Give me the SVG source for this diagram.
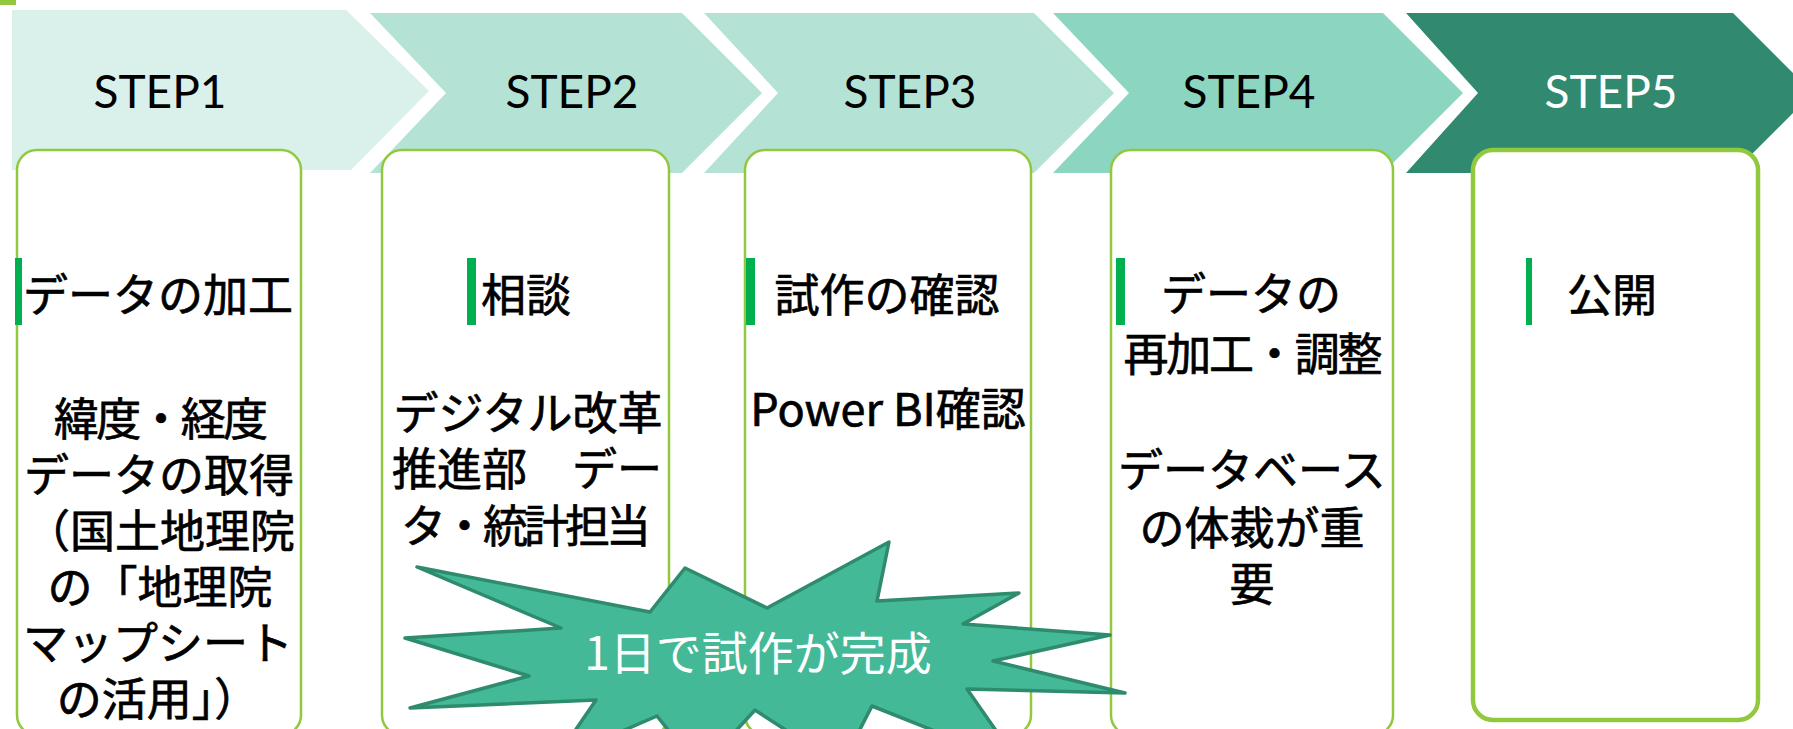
<svg xmlns="http://www.w3.org/2000/svg" width="1793" height="729" viewBox="0 0 1793 729">
<style>
.step{font-family:Lato,"Liberation Sans",sans-serif;font-size:46px;text-anchor:middle;fill:#000}
.box{fill:#fff;stroke:#92C83E;stroke-width:2.5}
.bar{fill:#00B050}
.t{font-family:"Noto Sans CJK JP","Noto Sans",sans-serif;font-size:45px;font-weight:400;fill:#000;stroke:#000;stroke-width:0.7;text-anchor:middle}
</style>
<rect x="0" y="0" width="16" height="5" fill="#92C83E"/>
<g id="chevrons">
<polygon id="chev1" points="12,10 346,10 429,91 351,170 12,170" fill="#DAF0EA"/>
<polygon id="chev2" points="370,13 682,13 762,93 682,173 370,173 446,93" fill="#B4E3D6"/>
<polygon id="chev3" points="704,13 1034,13 1114,93 1034,173 704,173 778,93" fill="#B4E3D6"/>
<polygon id="chev4" points="1053,13 1383,13 1463,93 1383,173 1053,173 1129,93" fill="#8CD5C1"/>
<polygon id="chev5" points="1406,13 1733,13 1813,93 1733,173 1406,173 1478,93" fill="#318A6F"/>
<text class="step" x="160" y="108">STEP1</text>
<text class="step" x="572" y="108">STEP2</text>
<text class="step" x="910" y="108">STEP3</text>
<text class="step" x="1249" y="108">STEP4</text>
<text class="step" x="1611" y="108" style="fill:#fff">STEP5</text>
</g>
<g id="step1">
<rect class="box" x="17" y="150" width="284" height="585" rx="20"/>
<rect class="bar" x="15" y="258" width="7" height="67"/>
<text class="t" x="158" y="312">データの加工</text>
<text class="t" x="161" y="436" textLength="214" lengthAdjust="spacing">緯度・経度</text>
<text class="t" x="159" y="492">データの取得</text>
<text class="t" x="160" y="548">（国土地理院</text>
<text class="t" x="160" y="604">の「地理院</text>
<text class="t" x="158" y="660">マップシート</text>
<text class="t" x="158" y="716">の活用」）</text>
</g>
<g id="step2">
<rect class="box" x="382" y="150" width="287" height="585" rx="20"/>
<rect class="bar" x="467" y="258" width="9" height="67"/>
<text class="t" x="526" y="312">相談</text>
<text class="t" x="528" y="430">デジタル改革</text>
<text class="t" x="527" y="486">推進部　デー</text>
<text class="t" x="526" y="543" textLength="250" lengthAdjust="spacing">タ・統計担当</text>
</g>
<g id="step3">
<rect class="box" x="745" y="150" width="286" height="585" rx="20"/>
<rect class="bar" x="746" y="258" width="9" height="67"/>
<text class="t" x="887" y="312">試作の確認</text>
<text class="t" x="888" y="426">Power BI確認</text>
</g>
<g id="step4">
<rect class="box" x="1111" y="150" width="282" height="585" rx="20"/>
<rect class="bar" x="1116" y="258" width="9" height="67"/>
<text class="t" x="1251" y="311">データの</text>
<text class="t" x="1253" y="371" textLength="259" lengthAdjust="spacing">再加工・調整</text>
<text class="t" x="1252" y="487">データベース</text>
<text class="t" x="1252" y="545">の体裁が重</text>
<text class="t" x="1252" y="601">要</text>
</g>
<g id="step5">
<rect class="box" x="1473" y="150" width="285" height="570" rx="20" style="stroke-width:4.5"/>
<rect class="bar" x="1526" y="258" width="6" height="67"/>
<text class="t" x="1612" y="312">公開</text>
</g>
<g id="burst">
<polygon points="417,567 650,612 685,568 767,608 889,542 877,601 1019,593 963,624 1110,635 993,661 1125,693 967,689 1020,765 872,706 841,766 755,710 700,770 657,716 555,760 596,700 410,708 529,676 405,638 561,628" fill="#43B997" stroke="#2E8B6E" stroke-width="3.5" stroke-linejoin="round"/>
<text class="t" x="758" y="670" style="fill:#fff;stroke:none;font-size:46px">1日で試作が完成</text>
</g>
</svg>
